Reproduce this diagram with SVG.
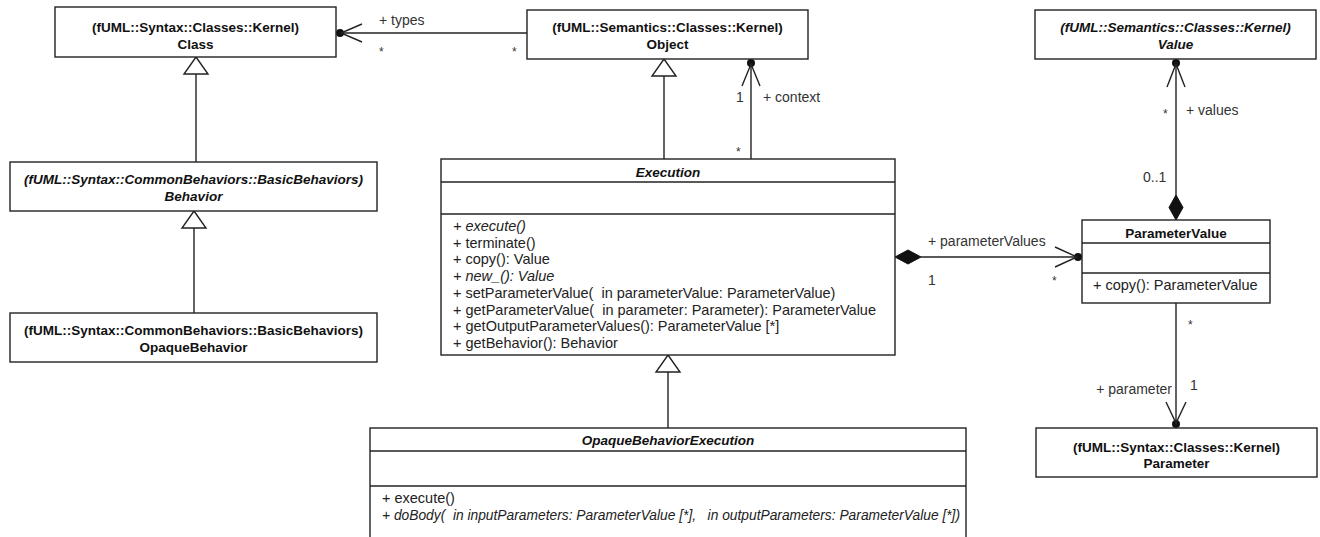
<svg xmlns="http://www.w3.org/2000/svg" width="1320" height="537" viewBox="0 0 1320 537">
<style>
.box{fill:#fff;stroke:#222;stroke-width:1.4}
.sep{stroke:#222;stroke-width:1.4}
.ln{fill:none;stroke:#222;stroke-width:1.4}
.tri{fill:#fff;stroke:#222;stroke-width:1.4}
.dia{fill:#111;stroke:#111;stroke-width:1}
.dot{fill:#111}
.hd{font-family:"Liberation Sans",Arial,sans-serif;font-size:13.5px;font-weight:bold;fill:#111;text-anchor:middle}
.it{font-style:italic}
.op{font-family:"Liberation Sans",Arial,sans-serif;font-size:14.5px;fill:#222}
.lb{font-family:"Liberation Sans",Arial,sans-serif;font-size:14px;fill:#333}
.st{font-family:"Liberation Sans",Arial,sans-serif;font-size:12px;fill:#333}
</style>

<g id="connectors">
  <!-- Class - Object types -->
  <line class="ln" x1="336" y1="33" x2="527" y2="33"/>
  <circle class="dot" cx="340" cy="33" r="4"/>
  <polyline class="ln" points="362,24 341,33 362,42"/>
  <text class="lb" x="379" y="25">+ types</text>
  <text class="st" x="379" y="56">*</text>
  <text class="st" x="512" y="56">*</text>

  <!-- Behavior -> Class generalization -->
  <line class="ln" x1="196" y1="74" x2="196" y2="162"/>
  <polygon class="tri" points="196,57 208,74 184,74"/>

  <!-- OpaqueBehavior -> Behavior generalization -->
  <line class="ln" x1="194" y1="228" x2="194" y2="313"/>
  <polygon class="tri" points="194,211 206,228 182,228"/>

  <!-- Execution -> Object generalization -->
  <line class="ln" x1="664" y1="76" x2="664" y2="159"/>
  <polygon class="tri" points="664,59 676,76 652,76"/>

  <!-- context -->
  <line class="ln" x1="751" y1="59" x2="751" y2="159"/>
  <circle class="dot" cx="751" cy="63" r="4"/>
  <polyline class="ln" points="742,86 751,64 760,86"/>
  <text class="lb" x="736" y="102">1</text>
  <text class="lb" x="763" y="102">+ context</text>
  <text class="st" x="736" y="156">*</text>

  <!-- Value - ParameterValue -->
  <line class="ln" x1="1176" y1="59" x2="1176" y2="196"/>
  <circle class="dot" cx="1176" cy="63" r="4"/>
  <polyline class="ln" points="1167,87 1176,64 1185,87"/>
  <polygon class="dia" points="1176,195 1183,207.5 1176,220 1169,207.5"/>
  <text class="st" x="1163" y="118">*</text>
  <text class="lb" x="1186" y="115">+ values</text>
  <text class="lb" x="1143" y="182">0..1</text>

  <!-- Execution - ParameterValue -->
  <line class="ln" x1="921" y1="257" x2="1082" y2="257"/>
  <polygon class="dia" points="895,257 908,250 921,257 908,264"/>
  <circle class="dot" cx="1078" cy="257" r="4"/>
  <polyline class="ln" points="1055,247 1077,257 1055,267"/>
  <text class="lb" x="928" y="246">+ parameterValues</text>
  <text class="lb" x="928" y="285">1</text>
  <text class="st" x="1052" y="285">*</text>

  <!-- ParameterValue - Parameter -->
  <line class="ln" x1="1176" y1="303" x2="1176" y2="428"/>
  <circle class="dot" cx="1176" cy="424" r="4"/>
  <polyline class="ln" points="1166,402 1176,423 1186,402"/>
  <text class="st" x="1188" y="329">*</text>
  <text class="lb" x="1190" y="390">1</text>
  <text class="lb" x="1172" y="394" text-anchor="end">+ parameter</text>

  <!-- OpaqueBehaviorExecution -> Execution generalization -->
  <line class="ln" x1="668" y1="372" x2="668" y2="428"/>
  <polygon class="tri" points="668,355 680,372 656,372"/>
</g>

<g id="Class">
  <rect class="box" x="55" y="7" width="281" height="50"/>
  <text class="hd" x="195.5" y="32">(fUML::Syntax::Classes::Kernel)</text>
  <text class="hd" x="195.5" y="49">Class</text>
</g>

<g id="Object">
  <rect class="box" x="527" y="10" width="281" height="49"/>
  <text class="hd" x="667.5" y="32">(fUML::Semantics::Classes::Kernel)</text>
  <text class="hd" x="667.5" y="49">Object</text>
</g>

<g id="Value">
  <rect class="box" x="1035" y="10" width="281" height="49"/>
  <text class="hd it" x="1175.5" y="32">(fUML::Semantics::Classes::Kernel)</text>
  <text class="hd it" x="1175.5" y="49">Value</text>
</g>

<g id="Behavior">
  <rect class="box" x="10" y="162" width="367" height="49"/>
  <text class="hd it" x="193.5" y="184">(fUML::Syntax::CommonBehaviors::BasicBehaviors)</text>
  <text class="hd it" x="193.5" y="201">Behavior</text>
</g>

<g id="OpaqueBehavior">
  <rect class="box" x="10" y="313" width="367" height="49"/>
  <text class="hd" x="193.5" y="335">(fUML::Syntax::CommonBehaviors::BasicBehaviors)</text>
  <text class="hd" x="193.5" y="352">OpaqueBehavior</text>
</g>

<g id="Execution">
  <rect class="box" x="441" y="159" width="454" height="196"/>
  <line class="sep" x1="441" y1="182" x2="895" y2="182"/>
  <line class="sep" x1="441" y1="214" x2="895" y2="214"/>
  <text class="hd it" x="668" y="177">Execution</text>
  <text class="op it" x="453" y="231">+ execute()</text>
  <text class="op" x="453" y="247.7">+ terminate()</text>
  <text class="op" x="453" y="264.4">+ copy(): Value</text>
  <text class="op it" x="453" y="281.1">+ new_(): Value</text>
  <text class="op" x="453" y="297.8" xml:space="preserve">+ setParameterValue(  in parameterValue: ParameterValue)</text>
  <text class="op" x="453" y="314.5" xml:space="preserve">+ getParameterValue(  in parameter: Parameter): ParameterValue</text>
  <text class="op" x="453" y="331.2">+ getOutputParameterValues(): ParameterValue [*]</text>
  <text class="op" x="453" y="347.9">+ getBehavior(): Behavior</text>
</g>

<g id="ParameterValue">
  <rect class="box" x="1082" y="220" width="188" height="83"/>
  <line class="sep" x1="1082" y1="243" x2="1270" y2="243"/>
  <line class="sep" x1="1082" y1="273" x2="1270" y2="273"/>
  <text class="hd" x="1176" y="238">ParameterValue</text>
  <text class="op" x="1093" y="290">+ copy(): ParameterValue</text>
</g>

<g id="Parameter">
  <rect class="box" x="1036" y="428" width="281" height="49"/>
  <text class="hd" x="1176.5" y="452">(fUML::Syntax::Classes::Kernel)</text>
  <text class="hd" x="1176.5" y="468">Parameter</text>
</g>

<g id="OpaqueBehaviorExecution">
  <rect class="box" x="370" y="428" width="596" height="130"/>
  <line class="sep" x1="370" y1="451" x2="966" y2="451"/>
  <line class="sep" x1="370" y1="486" x2="966" y2="486"/>
  <text class="hd it" x="668" y="445">OpaqueBehaviorExecution</text>
  <text class="op" x="382" y="503">+ execute()</text>
  <text class="op it" x="382" y="520" xml:space="preserve" textLength="578" lengthAdjust="spacingAndGlyphs">+ doBody(  in inputParameters: ParameterValue [*],   in outputParameters: ParameterValue [*])</text>
</g>
</svg>
